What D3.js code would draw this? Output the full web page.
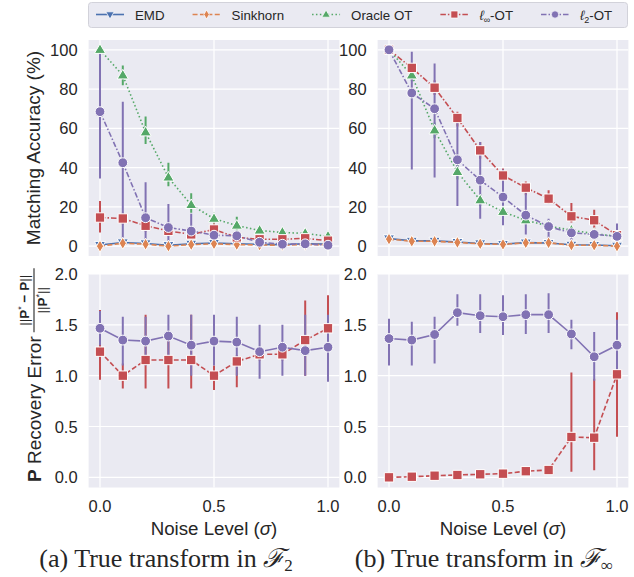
<!DOCTYPE html>
<html>
<head>
<meta charset="utf-8">
<script src="https://cdn.jsdelivr.net/npm/d3@7"></script>
<style>
body { margin: 0; background: #fff; }
svg { display: block; }
text { font-family: "Liberation Sans", Arial, sans-serif; fill: #262626; }
</style>
</head>
<body>
<svg id="chart" width="634" height="577"></svg>
<script>
// noise levels (sigma)
const noise = [0, 0.1, 0.2, 0.3, 0.4, 0.5, 0.6, 0.7, 0.8, 0.9, 1.0];

// (a) matching accuracy, true transform in F2
const accF2_emd      = [0.6, 1.9, 1.4, 0.5, 1.2, 1.6, 1.2, 0.9, 0.8, 1.2, 1.1];
const accF2_sinkhorn = [0.0, 1.5, 1.0, 0.0, 0.8, 1.2, 0.8, 0.6, 0.5, 0.8, 0.8];
const accF2_oracle   = [100, 87, 58, 35, 21, 14, 10.5, 8, 7, 6.5, 5];
const accF2_oracleLo = [100, 82, 52, 30.5, 17, 11.5, 8, 6.5, 6, 5.5, 4.2];
const accF2_oracleHi = [100, 92, 66, 42.5, 27, 17, 15, 9.5, 8, 7.5, 5.8];
const accF2_linf     = [14.6, 14.1, 10.4, 7.8, 6, 8.5, 4.5, 3.5, 3.5, 4, 2.8];
const accF2_linfLo   = [7, 11, 7.5, 5, 3.5, 5.5, 2.5, 2, 2, 2.5, 1.5];
const accF2_linfHi   = [23, 17, 13.5, 10.5, 8.5, 11.5, 6.5, 5, 5, 5.5, 4];
const accF2_l2       = [68.5, 42.5, 14.5, 9.5, 7.7, 5.6, 5.3, 2, 1, 1.2, 0.5];
const accF2_l2Lo     = [34.5, 0, 0, 1, 3, 3, 3, 0, 0, 0, 0];
const accF2_l2Hi     = [100, 73.5, 32.5, 21.5, 16.5, 8.5, 7.5, 4, 2, 2.5, 1.5];

// (b) matching accuracy, true transform in F-infinity
const accFi_emd      = [3.9, 2.7, 2.7, 2.1, 1.4, 1.1, 1.8, 1.6, 0.7, 0.6, 0.2];
const accFi_sinkhorn = [3.6, 2.5, 2.5, 1.9, 1.2, 0.9, 1.7, 1.7, 0.5, 0.5, 0.0];
const accFi_oracle   = [100, 87, 59, 37.8, 23.4, 17.5, 13.2, 10.3, 8.1, 6.4, 5];
const accFi_oracleLo = [100, 84, 55, 34, 20.5, 15, 11, 8.5, 7, 5.5, 4.3];
const accFi_oracleHi = [100, 90, 63, 41.5, 26.5, 20, 15.5, 12, 9.3, 7.3, 5.7];
const accFi_linf     = [100, 90.8, 80.7, 65.3, 48.8, 36, 29.8, 24.2, 15.2, 13.2, 5.6];
const accFi_linfLo   = [100, 88, 77, 61, 44.5, 32, 26, 21.5, 12, 8.5, 3.5];
const accFi_linfHi   = [100, 93.5, 84.5, 68.5, 53, 39.5, 33, 28.5, 22, 18.6, 8];
const accFi_l2       = [100, 78, 70, 44, 33.6, 25, 15.8, 10, 6.8, 6, 5];
const accFi_l2Lo     = [100, 39, 35, 20.5, 14, 10.7, 6, 3, 3, 3, 0];
const accFi_l2Hi     = [100, 99, 93, 63, 53, 39, 27, 14, 9, 8, 11.5];

// P recovery error, F2
const errF2_linf   = [1.236, 1.0, 1.154, 1.154, 1.154, 1.0, 1.14, 1.21, 1.21, 1.35, 1.466];
const errF2_linfLo = [0.96, 0.875, 0.875, 0.875, 0.875, 0.86, 0.885, 1.15, 1.15, 1.0, 1.15];
const errF2_linfHi = [1.646, 1.12, 1.6, 1.43, 1.6, 1.1, 1.2, 1.27, 1.27, 1.74, 1.79];
const errF2_l2     = [1.466, 1.35, 1.34, 1.39, 1.30, 1.34, 1.33, 1.236, 1.28, 1.246, 1.28];
const errF2_l2Lo   = [1.30, 1.10, 1.10, 1.18, 1.00, 1.10, 1.00, 0.97, 1.00, 1.00, 0.94];
const errF2_l2Hi   = [1.636, 1.58, 1.58, 1.60, 1.60, 1.60, 1.58, 1.50, 1.50, 1.60, 1.60];

// P recovery error, F-infinity
const errFi_linf   = [0.0, 0.006, 0.016, 0.023, 0.03, 0.036, 0.06, 0.072, 0.397, 0.39, 1.013];
const errFi_linfLo = [0, 0, 0.005, 0.01, 0.015, 0.02, 0.04, 0.05, 0.055, 0.07, 0.40];
const errFi_linfHi = [0.005, 0.012, 0.028, 0.035, 0.045, 0.055, 0.08, 0.095, 1.03, 0.97, 1.625];
const errFi_l2     = [1.365, 1.35, 1.405, 1.62, 1.59, 1.58, 1.60, 1.60, 1.41, 1.186, 1.30];
const errFi_l2Lo   = [1.10, 1.10, 1.12, 1.49, 1.42, 1.40, 1.41, 1.42, 1.26, 0.95, 1.06];
const errFi_l2Hi   = [1.56, 1.53, 1.58, 1.80, 1.80, 1.79, 1.80, 1.81, 1.55, 1.43, 1.55];

const accTicks = [0, 20, 40, 60, 80, 100];
const errTicks = [0, 0.5, 1.0, 1.5, 2.0];
const xTicks = [0, 0.5, 1.0];

// method styles (seaborn deep palette)
const methods = {
    emd:      { color: '#4C72B0', dash: null,            marker: 'tridown' },
    sinkhorn: { color: '#DD8452', dash: '5,2.4',         marker: 'diamond' },
    oracle:   { color: '#55A868', dash: '1.5,2.4',       marker: 'triup' },
    linf:     { color: '#C44E52', dash: '5.5,2,1.5,2',   marker: 'square' },
    l2:       { color: '#8172B3', dash: '5.5,2,1.5,2',   marker: 'circle' }
};

const svg = d3.select('#chart');

function markerPath(kind) {
    if (kind === 'circle') return d3.symbol(d3.symbolCircle, 76)();
    if (kind === 'square') return d3.symbol(d3.symbolSquare, 88)();
    if (kind === 'triup') return 'M0,-6L5.6,3.6L-5.6,3.6Z';
    if (kind === 'tridown') return 'M0,6L5.6,-3.6L-5.6,-3.6Z';
    if (kind === 'diamond') return 'M0,-6L3.6,0L0,6L-3.6,0Z';
}

function drawPanel(p) {
    const x = d3.scaleLinear().domain([-0.05, 1.05]).range(p.xr);
    const y = d3.scaleLinear().domain(p.yd).range(p.yr);
    const g = svg.append('g');

    g.append('rect')
        .attr('x', p.xr[0]).attr('y', p.yr[1])
        .attr('width', p.xr[1] - p.xr[0]).attr('height', p.yr[0] - p.yr[1])
        .attr('fill', '#EAEAF2');

    g.selectAll('line.gy').data(p.ticks).join('line')
        .attr('x1', p.xr[0]).attr('x2', p.xr[1])
        .attr('y1', d => y(d)).attr('y2', d => y(d))
        .attr('stroke', '#fff').attr('stroke-width', 1.2);
    g.selectAll('line.gx').data(xTicks).join('line')
        .attr('x1', d => x(d)).attr('x2', d => x(d))
        .attr('y1', p.yr[1]).attr('y2', p.yr[0])
        .attr('stroke', '#fff').attr('stroke-width', 1.2);

    // y tick labels
    g.selectAll('text.yt').data(p.ticks).join('text')
        .attr('x', p.xr[0] - 11).attr('y', d => y(d) + 6)
        .attr('text-anchor', 'end').attr('font-size', 16.5)
        .text(d => p.fmt(d));

    if (p.xlabels) {
        g.selectAll('text.xt').data(xTicks).join('text')
            .attr('x', d => x(d)).attr('y', p.yr[0] + 24)
            .attr('text-anchor', 'middle').attr('font-size', 16.5)
            .text(d => d3.format('.1f')(d));
    }

    const clip = 'clip' + p.id;
    g.append('clipPath').attr('id', clip).append('rect')
        .attr('x', p.xr[0]).attr('y', p.yr[1] - 6)
        .attr('width', p.xr[1] - p.xr[0]).attr('height', p.yr[0] - p.yr[1] + 6);

    const layerBars = g.append('g').attr('clip-path', 'url(#' + clip + ')');
    const layerLines = g.append('g');
    const layerMarks = g.append('g');

    for (const s of p.series) {
        const m = methods[s.key];
        const pts = noise.map((n, i) => ({ x: n, y: s.v[i], lo: s.lo ? s.lo[i] : null, hi: s.hi ? s.hi[i] : null }));
        if (s.lo) {
            layerBars.selectAll(null).data(pts).join('line')
                .attr('x1', d => x(d.x)).attr('x2', d => x(d.x))
                .attr('y1', d => y(d.lo)).attr('y2', d => y(d.hi))
                .attr('stroke', m.color).attr('stroke-width', 2);
        }
        layerLines.append('path')
            .datum(pts)
            .attr('d', d3.line().x(d => x(d.x)).y(d => y(d.y)))
            .attr('fill', 'none').attr('stroke', m.color).attr('stroke-width', 1.6)
            .attr('stroke-dasharray', s.dash !== undefined ? s.dash : m.dash);
        layerMarks.selectAll(null).data(pts).join('path')
            .attr('transform', d => `translate(${x(d.x)},${y(d.y)})`)
            .attr('d', markerPath(m.marker))
            .attr('fill', m.color).attr('stroke', '#fff').attr('stroke-width', 1);
    }
}

const fmtAcc = d3.format('d');
const fmtErr = d3.format('.1f');
const yrTop = [256, 40];
const yrBot = [487.5, 274];
const xrLeft = [88.6, 339.4];
const xrRight = [377.6, 628.4];

drawPanel({ id: 'a1', xr: xrLeft, yd: [-5, 105], yr: yrTop, ticks: accTicks, fmt: fmtAcc, xlabels: false,
    series: [
        { key: 'emd', v: accF2_emd },
        { key: 'sinkhorn', v: accF2_sinkhorn },
        { key: 'oracle', v: accF2_oracle, lo: accF2_oracleLo, hi: accF2_oracleHi },
        { key: 'linf', v: accF2_linf, lo: accF2_linfLo, hi: accF2_linfHi },
        { key: 'l2', v: accF2_l2, lo: accF2_l2Lo, hi: accF2_l2Hi }
    ] });
drawPanel({ id: 'b1', xr: xrRight, yd: [-5, 105], yr: yrTop, ticks: accTicks, fmt: fmtAcc, xlabels: false,
    series: [
        { key: 'emd', v: accFi_emd },
        { key: 'sinkhorn', v: accFi_sinkhorn },
        { key: 'oracle', v: accFi_oracle, lo: accFi_oracleLo, hi: accFi_oracleHi },
        { key: 'linf', v: accFi_linf, lo: accFi_linfLo, hi: accFi_linfHi },
        { key: 'l2', v: accFi_l2, lo: accFi_l2Lo, hi: accFi_l2Hi }
    ] });
drawPanel({ id: 'a2', xr: xrLeft, yd: [-0.1, 2.0], yr: yrBot, ticks: errTicks, fmt: fmtErr, xlabels: true,
    series: [
        { key: 'linf', v: errF2_linf, lo: errF2_linfLo, hi: errF2_linfHi, dash: '5,2.4' },
        { key: 'l2', v: errF2_l2, lo: errF2_l2Lo, hi: errF2_l2Hi, dash: null }
    ] });
drawPanel({ id: 'b2', xr: xrRight, yd: [-0.1, 2.0], yr: yrBot, ticks: errTicks, fmt: fmtErr, xlabels: true,
    series: [
        { key: 'linf', v: errFi_linf, lo: errFi_linfLo, hi: errFi_linfHi, dash: '5,2.4' },
        { key: 'l2', v: errFi_l2, lo: errFi_l2Lo, hi: errFi_l2Hi, dash: null }
    ] });

// axis titles
svg.append('text')
    .attr('transform', 'translate(40,148) rotate(-90)')
    .attr('text-anchor', 'middle').attr('font-size', 19)
    .text('Matching Accuracy (%)');

const yl = svg.append('g').attr('transform', 'translate(41,482) rotate(-90)');
const ylMain = yl.append('text').attr('font-size', 19);
ylMain.append('tspan').attr('font-weight', 'bold').text('P');
ylMain.append('tspan').text(' Recovery Error');
const mainLen = ylMain.node().getComputedTextLength();
const fx = mainLen + 4;
const num = yl.append('text').attr('font-size', 13.5).attr('x', fx + 32).attr('y', -12).attr('text-anchor', 'middle');
num.append('tspan').text('||');
num.append('tspan').attr('font-weight', 'bold').text('P');
num.append('tspan').attr('font-size', 9).attr('dy', -5).text('*');
num.append('tspan').attr('dy', 5).attr('font-weight', 'bold').text(' \u2212 ');
num.append('tspan').attr('font-weight', 'bold').text('P');
num.append('tspan').text('||');
yl.append('line').attr('x1', fx).attr('x2', fx + 64).attr('y1', -7).attr('y2', -7)
    .attr('stroke', '#262626').attr('stroke-width', 1.1);
const den = yl.append('text').attr('font-size', 13.5).attr('x', fx + 32).attr('y', 6).attr('text-anchor', 'middle');
den.append('tspan').text('||');
den.append('tspan').attr('font-weight', 'bold').text('P');
den.append('tspan').attr('font-size', 9).attr('dy', -5).text('*');
den.append('tspan').attr('dy', 5).text('||');

for (const cx of [214, 503]) {
    const t = svg.append('text').attr('x', cx).attr('y', 535)
        .attr('text-anchor', 'middle').attr('font-size', 18.7);
    t.append('tspan').text('Noise Level (');
    t.append('tspan').attr('font-style', 'italic').text('\u03C3');
    t.append('tspan').text(')');
}

// captions
const captions = [
    { cx: 166, label: '(a) True transform in ', sub: '2' },
    { cx: 484, label: '(b) True transform in ', sub: '\u221E' }
];
for (const c of captions) {
    const t = svg.append('text').attr('x', c.cx).attr('y', 567)
        .attr('text-anchor', 'middle').attr('font-size', 26)
        .style('font-family', '"Liberation Serif", "DejaVu Serif", serif');
    t.append('tspan').text(c.label);
    t.append('tspan').attr('font-style', 'italic').text('\u2131');
    t.append('tspan').attr('font-size', 17).attr('dy', 4).text(c.sub);
}

// legend
const legendItems = [
    { key: 'emd', parts: [['EMD']] },
    { key: 'sinkhorn', parts: [['Sinkhorn']] },
    { key: 'oracle', parts: [['Oracle OT']] },
    { key: 'linf', parts: [['\u2113', 'i'], ['\u221E', 'sub'], ['-OT']] },
    { key: 'l2', parts: [['\u2113', 'i'], ['2', 'sub'], ['-OT']] }
];
const leg = svg.append('g');
leg.append('rect')
    .attr('x', 88.5).attr('y', 2.5).attr('width', 539).attr('height', 25).attr('rx', 3)
    .attr('fill', '#EAEAF2').attr('stroke', '#d2d2da').attr('stroke-width', 1);
let lx = 96;
for (const it of legendItems) {
    const m = methods[it.key];
    leg.append('line').attr('x1', lx).attr('x2', lx + 28).attr('y1', 14.5).attr('y2', 14.5)
        .attr('stroke', m.color).attr('stroke-width', 1.6).attr('stroke-dasharray', m.dash);
    leg.append('path').attr('transform', `translate(${lx + 14},14.5) scale(0.75)`)
        .attr('d', markerPath(m.marker)).attr('fill', m.color).attr('stroke', '#fff').attr('stroke-width', 1);
    const t = leg.append('text').attr('x', lx + 39).attr('y', 19.5).attr('font-size', 13.3);
    for (const [s, k] of it.parts) {
        const ts = t.append('tspan').text(s);
        if (k === 'i') ts.attr('font-style', 'italic');
        if (k === 'sub') ts.attr('font-size', 9).attr('dy', 3);
        if (k === undefined && it.parts.length > 1) ts.attr('dy', -3);
    }
    lx += 39 + t.node().getComputedTextLength() + 28;
}
</script>
</body>
</html>
